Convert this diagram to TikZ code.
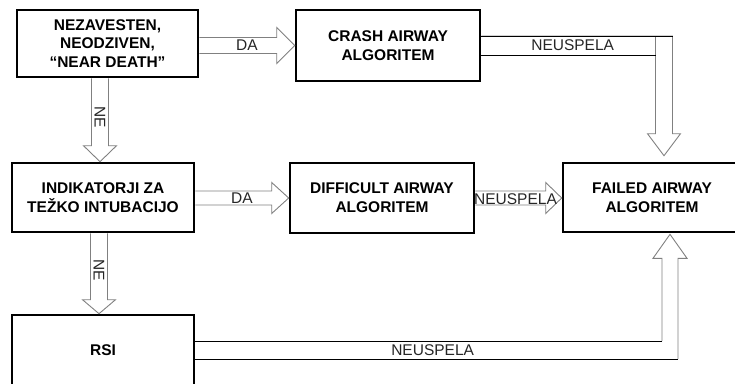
\documentclass[tikz,border=0pt]{standalone}
\usepackage{fontspec}
\setmainfont{Liberation Sans}
\usetikzlibrary{calc}

\begin{document}
\begin{tikzpicture}[x=1pt, y=-1pt,
    box/.style={draw, line width=2.6pt, align=center, inner sep=0pt,
        font=\bfseries\fontsize{15.5}{18.7}\selectfont},
    barrow/.style={draw=arrowColour, line width=0.9pt, line join=miter},
    bedge/.style={draw=black, line width=0.8pt},
    tag/.style={font=\fontsize{15.5}{18}\selectfont, inner sep=0pt, text=black!85}]
    \definecolor{arrowColour}{HTML}{808080}

    \useasboundingbox (0,0) rectangle (735,383);
    \clip (0,0) rectangle (735,383);

    % Draw boxes
    \node[box, minimum width=181pt, minimum height=67pt] (nez) at (107.5,43.5) {NEZAVESTEN,\\NEODZIVEN,\\“NEAR DEATH”};
    \node[box, minimum width=184pt, minimum height=71pt] (crash) at (388,45.5) {CRASH AIRWAY\\ALGORITEM};
    \node[box, minimum width=182pt, minimum height=69pt] (ind) at (103,197.5) {INDIKATORJI ZA\\TEŽKO INTUBACIJO};
    \node[box, minimum width=184pt, minimum height=70pt] (diff) at (382,198) {DIFFICULT AIRWAY\\ALGORITEM};
    \node[box, minimum width=178pt, minimum height=69pt] (fail) at (652,197.5) {FAILED AIRWAY\\ALGORITEM};
    \node[box, minimum width=182pt, minimum height=70pt] (rsi) at (103,350) {RSI};

    % Arrow tips
    \coordinate (tipA) at ($(fail.north)+(12,-6)$);
    \coordinate (tipB) at ($(fail.south)+(18,1)$);
    \coordinate (tipC) at ($(ind.north)+(-3,0)$);
    \coordinate (tipD) at ($(rsi.north)+(-4,0)$);

    % Draw nez -> crash
    \draw[barrow] ($(nez.east |- crash.west)+(0,-8)$) -- ($(crash.west)+(-18,-8)$) -- ($(crash.west)+(-18,-18)$)
        -- (crash.west) -- ($(crash.west)+(-18,18)$) -- ($(crash.west)+(-18,8)$) -- ($(nez.east |- crash.west)+(0,8)$);
    \node[tag] (daA) at ($(nez.east |- crash.west)!0.5!(crash.west)$) {DA};

    % Draw crash -> fail
    \draw[barrow] ($(crash.east)+(0,-9.5)$) -- ($(tipA |- crash.east)+(8.5,-9.5)$) -- ($(tipA)+(8.5,-22)$) -- ($(tipA)+(16.5,-22)$)
        -- (tipA) -- ($(tipA)+(-16.5,-22)$) -- ($(tipA)+(-8.5,-22)$) -- ($(tipA |- crash.east)+(-8.5,-9.5)$);
    \draw[bedge] ($(crash.east)+(0,-9.5)$) -- ($(tipA |- crash.east)+(8.5,-9.5)$);
    \draw[bedge] ($(crash.east)+(0,9.5)$) -- ($(tipA |- crash.east)+(-8.5,9.5)$);
    \node[tag] (failA) at ($(crash.east)!0.5!(tipA |- crash.east)$) {NEUSPELA};

    % Draw nez -> ind
    \draw[barrow] ($(tipC |- nez.south)+(-8.5,0)$) -- ($(tipC)+(-8.5,-16)$) -- ($(tipC)+(-16.5,-16)$)
        -- (tipC) -- ($(tipC)+(16.5,-16)$) -- ($(tipC)+(8.5,-16)$) -- ($(tipC |- nez.south)+(8.5,0)$);
    \node[tag, rotate=-90] (neA) at ($(tipC |- nez.south)!0.5!(tipC)+(0,-3)$) {NE};

    % Draw ind -> diff
    \draw[barrow] ($(ind.east |- diff.west)+(0,-7)$) -- ($(diff.west)+(-17,-7)$) -- ($(diff.west)+(-17,-15.5)$)
        -- (diff.west) -- ($(diff.west)+(-17,15.5)$) -- ($(diff.west)+(-17,7)$) -- ($(ind.east |- diff.west)+(0,7)$);
    \node[tag] (daB) at ($(ind.east |- diff.west)!0.5!(diff.west)$) {DA};

    % Draw diff -> fail
    \draw[barrow] ($(diff.east)+(0,-7)$) -- ($(fail.west |- diff.east)+(-16,-7)$) -- ($(fail.west |- diff.east)+(-16,-15.5)$)
        -- (fail.west |- diff.east) -- ($(fail.west |- diff.east)+(-16,15.5)$) -- ($(fail.west |- diff.east)+(-16,7)$) -- ($(diff.east)+(0,7)$);
    \node[tag] (failB) at ($(diff.east)!0.5!(fail.west |- diff.east)+(-3,1)$) {NEUSPELA};

    % Draw ind -> rsi
    \draw[barrow] ($(tipD |- ind.south)+(-8.5,0)$) -- ($(tipD)+(-8.5,-14)$) -- ($(tipD)+(-16.5,-14)$)
        -- (tipD) -- ($(tipD)+(16.5,-14)$) -- ($(tipD)+(8.5,-14)$) -- ($(tipD |- ind.south)+(8.5,0)$);
    \node[tag, rotate=-90] (neB) at ($(tipD |- ind.south)!0.5!(tipD)+(0,-3)$) {NE};

    % Draw rsi -> fail
    \draw[barrow] ($(tipB |- rsi.east)+(-8,-9)$) -- ($(tipB)+(-8,24)$) -- ($(tipB)+(-17,24)$)
        -- (tipB) -- ($(tipB)+(17,24)$) -- ($(tipB)+(8,24)$) -- ($(tipB |- rsi.east)+(8,9)$);
    \draw[bedge] ($(rsi.east)+(0,-9)$) -- ($(tipB |- rsi.east)+(-8,-9)$);
    \draw[bedge] ($(rsi.east)+(0,9)$) -- ($(tipB |- rsi.east)+(8,9)$);
    \node[tag] (failC) at ($(rsi.east)!0.5!(tipB |- rsi.east)$) {NEUSPELA};

\end{tikzpicture}
\end{document}
